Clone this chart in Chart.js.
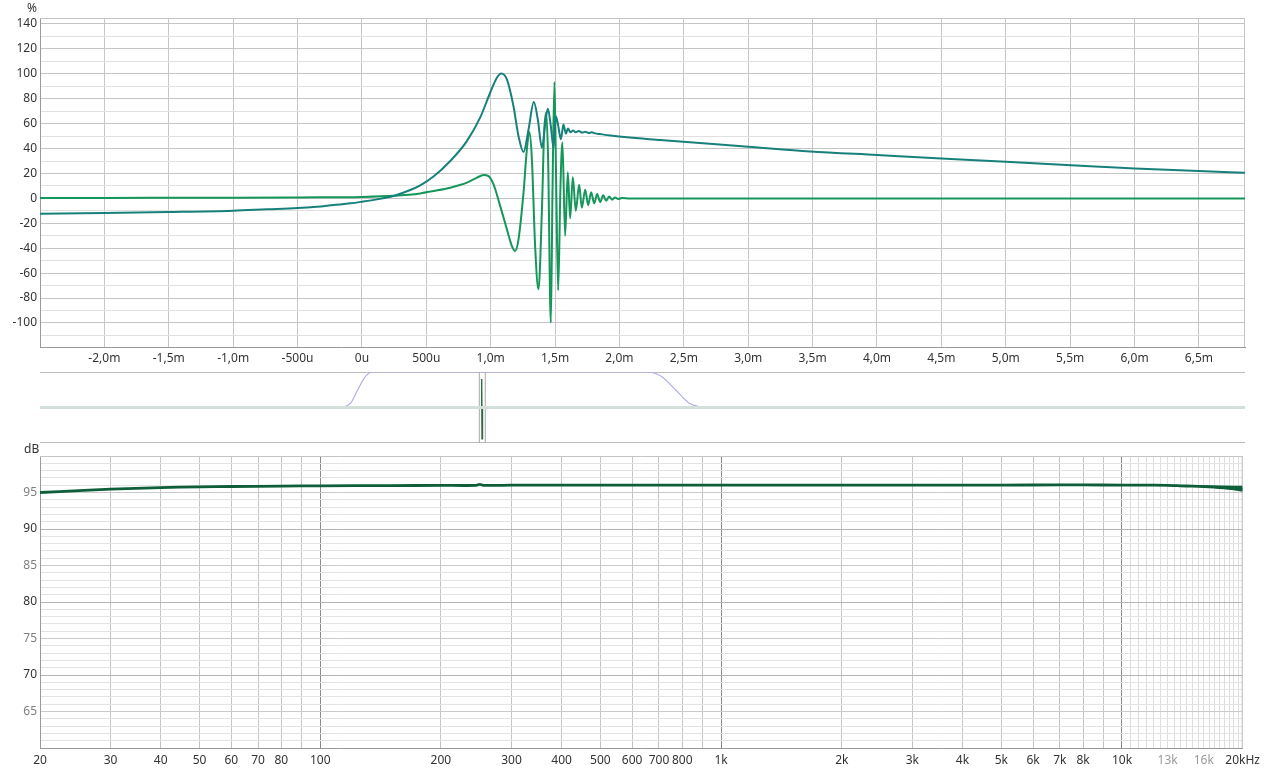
<!DOCTYPE html>
<html>
<head>
<meta charset="utf-8">
<script src="https://cdn.jsdelivr.net/npm/chart.js@4"></script>
<style>
  body { margin: 0; background: #fff; width: 1265px; height: 772px; overflow: hidden; position: relative; }
  canvas { position: absolute; left: 0; }
  .unit { position: absolute; font: 12px "Noto Sans", sans-serif; color: #333; }
</style>
</head>
<body>
<canvas id="irChart" style="top:0" width="1265" height="370"></canvas>
<canvas id="overviewChart" style="top:370px" width="1265" height="75"></canvas>
<canvas id="frChart" style="top:445px" width="1265" height="327"></canvas>
<span class="unit" style="left:27px; top:-1px;">%</span>
<span class="unit" style="left:24px; top:440px;">dB</span>
<script>
// Impulse / step response (time in ms, value in %)
const stepT = [-2.5, -2.0, -1.5, -1.0, -0.74, -0.5, -0.35, -0.22, -0.09, 0, 0.116, 0.245, 0.375, 0.453, 0.556, 0.686, 0.815, 0.918, 0.996, 1.048, 1.082, 1.126, 1.177, 1.216, 1.255, 1.294, 1.335, 1.366, 1.398, 1.429, 1.444, 1.467, 1.488, 1.506, 1.525, 1.545, 1.565, 1.584, 1.6, 1.62, 1.64, 1.66, 1.685, 1.71, 1.735, 1.76, 1.785, 1.81, 1.85, 1.93, 2.316, 3.0, 3.48, 4.0, 4.5, 5.0, 5.73, 6.0, 6.5, 6.858];
const stepV = [-12.3, -11.8, -11.0, -9.9, -8.8, -7.8, -6.7, -5.3, -4.0, -2.7, -0.8, 1.9, 6.7, 10.5, 17.5, 30, 46, 64.8, 84.8, 96.9, 100.3, 95.5, 74, 50, 37.2, 55.4, 77.3, 63.4, 40.7, 64.8, 72, 58, 40.7, 66, 58, 47.4, 59.4, 52, 56, 53, 54.5, 53, 54, 52.8, 53.5, 52.5, 53, 52.2, 51.6, 50.5, 46.8, 41.5, 37.7, 34.8, 32, 29.4, 25.4, 24, 21.9, 20.6];

const impT = [-2.5, -2.0, -1.0, -0.5, 0, 0.25, 0.453, 0.556, 0.686, 0.815, 0.893, 0.944, 0.983, 1.022, 1.074, 1.126, 1.165, 1.19, 1.216, 1.255, 1.281, 1.301, 1.32, 1.345, 1.371, 1.398, 1.415, 1.431, 1.446, 1.467, 1.48, 1.495, 1.509, 1.524, 1.542, 1.557, 1.578, 1.599, 1.617, 1.638, 1.661, 1.687, 1.708, 1.734, 1.757, 1.78, 1.804, 1.827, 1.85, 1.874, 1.897, 1.92, 1.943, 1.967, 1.99, 2.02, 2.08, 3.0, 4.0, 5.0, 6.0, 6.858];
const impV = [0.3, 0.4, 0.5, 0.8, 1.2, 2.1, 4.0, 5.9, 8.6, 12.6, 16.6, 18.7, 17.9, 11.2, -6.2, -24.9, -38.3, -42.3, -32.9, 4.6, 39.3, 53.2, 31.3, -38, -73, -8.8, 52.7, 68.8, 31, -99.8, 4.6, 93.4, 10, -73.8, 10, 45, -30, 21, -16, 17, -10, 11, -7.5, 7, -5.5, 5, -4, 3.5, -3, 2.5, -2, 1.5, -1, 0.8, -0.5, 0.3, 0, 0, 0, 0, 0, 0];

const timeTicks = [-2.0, -1.5, -1.0, -0.5, 0, 0.5, 1.0, 1.5, 2.0, 2.5, 3.0, 3.5, 4.0, 4.5, 5.0, 5.5, 6.0, 6.5];
const timeLabels = ['-2,0m', '-1,5m', '-1,0m', '-500u', '0u', '500u', '1,0m', '1,5m', '2,0m', '2,5m', '3,0m', '3,5m', '4,0m', '4,5m', '5,0m', '5,5m', '6,0m', '6,5m'];

// Overview strip (window and impulse, time in ms)
const winT = [-0.72, -0.6, -0.49, -0.37, -0.25, 4.09, 4.3, 4.52, 4.73, 4.95];
const winV = [0, 0.13, 0.5, 0.87, 1, 1, 0.87, 0.5, 0.13, 0];
const spikeT = [1.455, 1.462, 1.466, 1.47, 1.474, 1.48];
const spikeV = [0, 0.05, 0.8, -0.88, 0.05, 0];
const cursorT = [1.427, 1.521];

// Frequency response (Hz, dB)
const freqHz = [20, 25, 30, 40, 50, 60, 80, 100, 150, 200, 245, 250, 255, 300, 500, 1000, 2000, 3000, 5000, 7000, 8000, 10000, 12000, 13000, 14000, 15000, 16000, 17000, 18000, 19000, 20000];
const levelDb = [95.0, 95.25, 95.45, 95.68, 95.77, 95.82, 95.88, 95.91, 95.95, 95.97, 95.98, 96.12, 95.98, 96.0, 96.0, 96.0, 96.0, 96.0, 96.02, 96.04, 96.04, 96.01, 96.0, 95.98, 95.92, 95.86, 95.8, 95.73, 95.64, 95.55, 95.45];
const bandHz = [6500, 7000, 9000, 11000, 12500, 14500, 16000, 17800, 19000, 20000];
const bandHi = [96.02, 96.12, 96.14, 96.08, 96.05, 96.02, 95.98, 95.95, 95.93, 95.92];
const bandLo = [95.98, 95.9, 95.88, 95.92, 95.92, 95.82, 95.72, 95.52, 95.3, 95.1];

const freqLabelVals = [20, 30, 40, 50, 60, 70, 80, 100, 200, 300, 400, 500, 600, 700, 800, 1000, 2000, 3000, 4000, 5000, 6000, 7000, 8000, 10000, 13000, 16000, 20000];
const freqLabelText = ['20', '30', '40', '50', '60', '70', '80', '100', '200', '300', '400', '500', '600', '700', '800', '1k', '2k', '3k', '4k', '5k', '6k', '7k', '8k', '10k', '13k', '16k', '20kHz'];

const font = { family: '"Noto Sans", "DejaVu Sans", sans-serif', size: 12 };
const pts = (xs, ys) => xs.map((x, i) => ({ x, y: ys[i] }));

// light frame round the plot area
const framePlugin = (color, sides) => ({
  id: 'frame',
  beforeDatasetsDraw(chart) {
    const { ctx, chartArea: a } = chart;
    ctx.save();
    ctx.strokeStyle = color;
    ctx.lineWidth = 1;
    ctx.beginPath();
    if (sides.includes('t')) { ctx.moveTo(a.left, a.top + 0.5); ctx.lineTo(a.right, a.top + 0.5); }
    if (sides.includes('b')) { ctx.moveTo(a.left, a.bottom - 0.5); ctx.lineTo(a.right, a.bottom - 0.5); }
    if (sides.includes('r')) { ctx.moveTo(a.right - 0.5, a.top); ctx.lineTo(a.right - 0.5, a.bottom); }
    ctx.stroke();
    ctx.restore();
  }
});

const common = {
  responsive: false,
  animation: false,
  devicePixelRatio: 1,
  plugins: { legend: { display: false }, tooltip: { enabled: false } }
};

// Top: step + impulse response
const yGrid = [];
for (let v = -110; v <= 140; v += 10) yGrid.push(v);

new Chart(document.getElementById('irChart'), {
  type: 'line',
  data: {
    datasets: [
      { data: pts(stepT, stepV), borderColor: '#17807b', borderWidth: 2, pointRadius: 0, cubicInterpolationMode: 'monotone' },
      { data: pts(impT, impV), borderColor: '#15965a', borderWidth: 2, pointRadius: 0, cubicInterpolationMode: 'monotone' }
    ]
  },
  options: {
    ...common,
    layout: { padding: { left: 0, right: 20, top: 18, bottom: 0 } },
    scales: {
      x: {
        type: 'linear', min: -2.5, max: 6.858,
        afterBuildTicks: s => { s.ticks = timeTicks.map(v => ({ value: v })); },
        afterFit: s => { s.height = 23; },
        grid: { color: '#c6c6c6', drawTicks: false },
        border: { color: '#9a9a9a' },
        ticks: { padding: 4, color: '#333', font, maxRotation: 0, autoSkip: false, callback: (v, i) => timeLabels[i] }
      },
      y: {
        min: -119.3, max: 144.8,
        afterBuildTicks: s => { s.ticks = yGrid.map(v => ({ value: v })); },
        afterFit: s => { s.width = 40; },
        grid: { color: c => (c.tick.value % 20 === 0 ? '#c4c4c4' : '#e0e0e0'), drawTicks: false },
        border: { color: '#9a9a9a' },
        ticks: { padding: 3, color: '#333', font, autoSkip: false, callback: v => (v % 20 === 0 ? String(v) : '') }
      }
    }
  },
  plugins: [framePlugin('#c4c4c4', 'tr')]
});

// Middle: overview strip
new Chart(document.getElementById('overviewChart'), {
  type: 'line',
  data: {
    datasets: [
      { data: pts([-5.5, 13.5], [0, 0]), borderColor: '#d3e0da', borderWidth: 3, pointRadius: 0 },
      { data: pts(winT, winV), borderColor: '#b0b0e8', borderWidth: 1.2, pointRadius: 0, cubicInterpolationMode: 'monotone' },
      { data: pts([cursorT[0], cursorT[0]], [-1, 1]), borderColor: '#a8a8a8', borderWidth: 1, pointRadius: 0 },
      { data: pts([cursorT[1], cursorT[1]], [-1, 1]), borderColor: '#a8a8a8', borderWidth: 1, pointRadius: 0 },
      { data: pts(spikeT, spikeV), borderColor: '#2a6a46', borderWidth: 1.4, pointRadius: 0 }
    ]
  },
  options: {
    ...common,
    layout: { padding: { left: 40, right: 20, top: 2, bottom: 2 } },
    scales: {
      x: { type: 'linear', min: -5.5, max: 13.5, display: false },
      y: { min: -1, max: 1, display: false }
    }
  },
  plugins: [framePlugin('#bdbdbd', 'tb')]
});

// Bottom: frequency response
const fGrid = [];
[20, 30, 40, 50, 60, 70, 80, 90].forEach(v => fGrid.push(v));
[100, 1000].forEach(d => { for (let k = 1; k <= 9; k++) fGrid.push(k * d); });
for (let v = 10000; v <= 20000; v += 500) fGrid.push(v);
const dbGrid = [];
for (let v = 61; v <= 99; v++) dbGrid.push(v);

new Chart(document.getElementById('frChart'), {
  type: 'line',
  data: {
    datasets: [
      { data: pts(bandHz, bandHi), borderWidth: 0, pointRadius: 0, fill: false },
      { data: pts(bandHz, bandLo), borderWidth: 0, pointRadius: 0, fill: '-1', backgroundColor: '#0f5e3a' },
      { data: pts(freqHz, levelDb), borderColor: '#0f5e3a', borderWidth: 2.8, pointRadius: 0, tension: 0.3 }
    ]
  },
  options: {
    ...common,
    layout: { padding: { left: 0, right: 20, top: 11, bottom: 0 } },
    scales: {
      x: {
        type: 'logarithmic', min: 20, max: 20000,
        afterBuildTicks: s => { s.ticks = fGrid.map(v => ({ value: v })); },
        afterFit: s => { s.height = 24; },
        grid: {
          color: c => ([100, 1000, 10000].includes(c.tick.value) ? '#8a8a8a' : (c.tick.value > 10000 ? '#dedede' : '#c4c4c4')),
          drawTicks: false
        },
        border: { color: '#9a9a9a' },
        ticks: {
          padding: 5, font, maxRotation: 0, autoSkip: false,
          color: c => (c.tick.value === 13000 || c.tick.value === 16000 ? '#9a9a9a' : '#333'),
          callback: v => { const k = freqLabelVals.indexOf(v); return k < 0 ? '' : freqLabelText[k]; }
        }
      },
      y: {
        min: 60, max: 100,
        afterBuildTicks: s => { s.ticks = dbGrid.map(v => ({ value: v })); },
        afterFit: s => { s.width = 40; },
        grid: {
          color: c => (c.tick.value % 10 === 0 ? '#b4b4b4' : (c.tick.value % 5 === 0 ? '#cacaca' : '#e3e3e3')),
          drawTicks: false
        },
        border: { color: '#9a9a9a' },
        ticks: {
          padding: 3, font, autoSkip: false,
          color: c => (c.tick.value % 10 === 0 ? '#333' : '#808080'),
          callback: v => (v % 5 === 0 ? String(v) : '')
        }
      }
    }
  },
  plugins: [framePlugin('#c4c4c4', 'tr')]
});
</script>
</body>
</html>
